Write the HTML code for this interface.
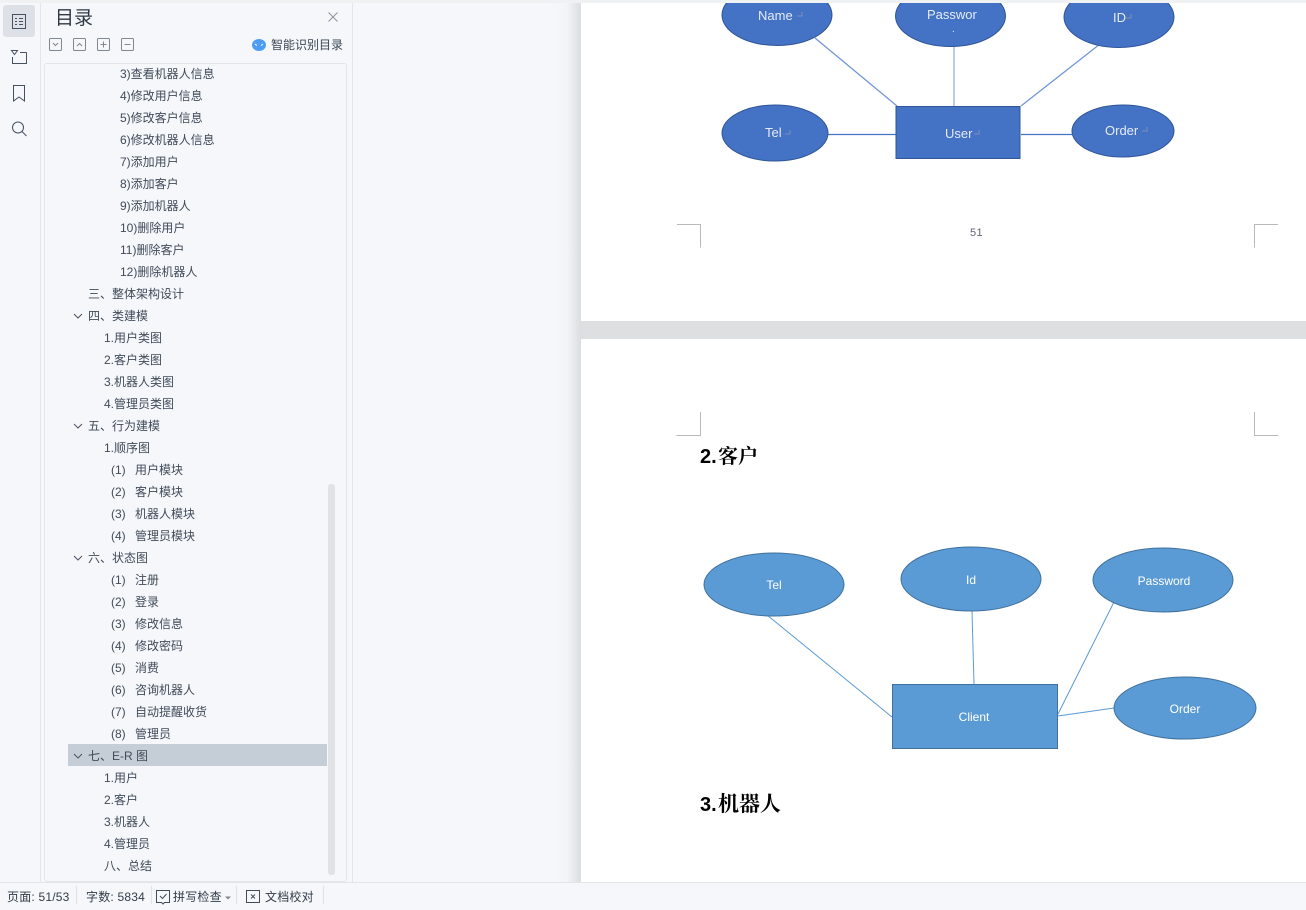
<!DOCTYPE html>
<html><head><meta charset="utf-8">
<style>
html,body{margin:0;padding:0;width:1306px;height:910px;overflow:hidden;background:#f5f7fa;}
body{position:relative;font-family:"Liberation Sans","Noto Sans CJK SC",sans-serif;color:#3c4654;}
.a{position:absolute;}
.r{position:absolute;font-size:12px;line-height:22px;height:22px;white-space:nowrap;color:#414b59;margin-top:1px;}
.s{position:absolute;font-size:12px;line-height:16px;top:889px;white-space:nowrap;color:#333c49;letter-spacing:.2px;}
svg{position:absolute;left:0;top:0;}
svg text{font-family:"Liberation Sans","Noto Sans CJK SC",sans-serif;}
</style></head><body>
<div class="a" style="left:553px;top:0;width:28px;height:882px;background:linear-gradient(90deg,#f5f7fa 0%,#f3f4f6 50%,#dcdde0 100%)"></div>
<div class="a" style="left:581px;top:0;width:725px;height:321px;background:#fff"></div>
<div class="a" style="left:581px;top:321px;width:725px;height:18px;background:#dedfe1"></div>
<div class="a" style="left:581px;top:339px;width:725px;height:543px;background:#fff"></div>
<div class="a" style="left:40px;top:0;width:1px;height:882px;background:#e3e5e9"></div>
<div class="a" style="left:352px;top:0;width:1px;height:882px;background:#e3e5e9"></div>
<div class="a" style="left:3px;top:5px;width:32px;height:32px;background:#dde0e6;border-radius:3px"></div>
<div class="a" style="left:44px;top:63px;width:301px;height:817px;border:1px solid #e2e4e8;border-radius:3px"></div>
<div class="a" style="left:328px;top:484px;width:7px;height:391px;background:#e0e2e5;border-radius:3px"></div>
<div class="a" style="left:68px;top:744px;width:259px;height:22px;background:#c5ced6"></div>
<div class="a" style="left:0;top:882px;width:1306px;height:1px;background:#e3e5e9"></div>
<div class="a" style="left:0;top:0;width:1306px;height:3px;background:#f0f1f3"></div>

<div class="a" style="left:55px;top:6px;font-size:19px;line-height:25px;color:#2f3946">目录</div>
<div class="a" style="left:271px;top:37px;font-size:12px;line-height:17px;color:#3c4654">智能识别目录</div>

<div class="r" style="left:120px;top:62px">3)查看机器人信息</div>
<div class="r" style="left:120px;top:84px">4)修改用户信息</div>
<div class="r" style="left:120px;top:106px">5)修改客户信息</div>
<div class="r" style="left:120px;top:128px">6)修改机器人信息</div>
<div class="r" style="left:120px;top:150px">7)添加用户</div>
<div class="r" style="left:120px;top:172px">8)添加客户</div>
<div class="r" style="left:120px;top:194px">9)添加机器人</div>
<div class="r" style="left:120px;top:216px">10)删除用户</div>
<div class="r" style="left:120px;top:238px">11)删除客户</div>
<div class="r" style="left:120px;top:260px">12)删除机器人</div>
<div class="r" style="left:88px;top:282px">三、整体架构设计</div>
<div class="r" style="left:88px;top:304px">四、类建模</div>
<div class="r" style="left:104px;top:326px">1.用户类图</div>
<div class="r" style="left:104px;top:348px">2.客户类图</div>
<div class="r" style="left:104px;top:370px">3.机器人类图</div>
<div class="r" style="left:104px;top:392px">4.管理员类图</div>
<div class="r" style="left:88px;top:414px">五、行为建模</div>
<div class="r" style="left:104px;top:436px">1.顺序图</div>
<div class="r" style="left:111px;top:458px">(1)<span class="a" style="left:24px">用户模块</span></div>
<div class="r" style="left:111px;top:480px">(2)<span class="a" style="left:24px">客户模块</span></div>
<div class="r" style="left:111px;top:502px">(3)<span class="a" style="left:24px">机器人模块</span></div>
<div class="r" style="left:111px;top:524px">(4)<span class="a" style="left:24px">管理员模块</span></div>
<div class="r" style="left:88px;top:546px">六、状态图</div>
<div class="r" style="left:111px;top:568px">(1)<span class="a" style="left:24px">注册</span></div>
<div class="r" style="left:111px;top:590px">(2)<span class="a" style="left:24px">登录</span></div>
<div class="r" style="left:111px;top:612px">(3)<span class="a" style="left:24px">修改信息</span></div>
<div class="r" style="left:111px;top:634px">(4)<span class="a" style="left:24px">修改密码</span></div>
<div class="r" style="left:111px;top:656px">(5)<span class="a" style="left:24px">消费</span></div>
<div class="r" style="left:111px;top:678px">(6)<span class="a" style="left:24px">咨询机器人</span></div>
<div class="r" style="left:111px;top:700px">(7)<span class="a" style="left:24px">自动提醒收货</span></div>
<div class="r" style="left:111px;top:722px">(8)<span class="a" style="left:24px">管理员</span></div>
<div class="r" style="left:88px;top:744px">七、E-R 图</div>
<div class="r" style="left:104px;top:766px">1.用户</div>
<div class="r" style="left:104px;top:788px">2.客户</div>
<div class="r" style="left:104px;top:810px">3.机器人</div>
<div class="r" style="left:104px;top:832px">4.管理员</div>
<div class="r" style="left:104px;top:854px">八、总结</div>

<div class="s" style="left:7px">页面: 51/53</div>
<div class="s" style="left:86px">字数: 5834</div>
<div class="s" style="left:173px">拼写检查</div>
<div class="s" style="left:265px">文档校对</div>

<svg width="1306" height="910" viewBox="0 0 1306 910">
<!-- rail icons -->
<g fill="none" stroke="#465161" stroke-width="1">
<rect x="12.500" y="14.500" width="13" height="14"/>
<path d="M15 18.500h2M15 21.500h2M15 24.500h2M19 18.500h4M19 21.500h4M19 24.500h4"/>
<path d="M11.500 50.500h6l-3 4zM20 52.500h6.500M12.500 57v6.500h14v-11"/>
<path d="M13.500 85.500h11v15.500l-5.500-4-5.500 4z"/>
<circle cx="18" cy="127.500" r="5.500"/><path d="M22 131.500l4.500 4.500"/>
<path d="M328.500 12.500l9 9M337.500 12.500l-9 9" stroke="#8a929c"/>
</g>
<g fill="none" stroke="#7f8791" stroke-width="1">
<rect x="49.500" y="38.500" width="12" height="12" rx="1"/><path d="M53 43l2.500 2.500 2.500-2.500"/>
<rect x="73.500" y="38.500" width="12" height="12" rx="1"/><path d="M77 46l2.500-2.500 2.500 2.500"/>
<rect x="97.500" y="38.500" width="12" height="12" rx="1"/><path d="M100.500 44.500h6M103.500 41.500v6"/>
<rect x="121.500" y="38.500" width="12" height="12" rx="1"/><path d="M124.500 44.500h6"/>
</g>
<ellipse cx="259" cy="45" rx="7" ry="6" fill="#4f9cf5"/>
<path d="M255 44l2 1.500M263 44l-2 1.500" stroke="#fff" fill="none"/>
<!-- tree chevrons -->
<g fill="none" stroke="#4a5462" stroke-width="1">
<path d="M74 314l4 4 4-4M74 424l4 4 4-4M74 556l4 4 4-4M74 754l4 4 4-4"/>
</g>
<!-- status bar icons -->
<g fill="none" stroke="#414b59" stroke-width="1">
<path d="M156.500 890.500h13v12h-5l-1.500 1.500-1.500-1.500h-5z"/><path d="M160 896l2.500 2.500 4-4.500"/>
<rect x="246.500" y="890.500" width="13" height="12"/><path d="M251 894.500l4 4M255 894.500l-4 4"/>
</g>
<path d="M225 896.500h6l-3 3z" fill="#7f8791"/>
<g stroke="#e0e2e6"><path d="M76.500 886v18M151.500 886v18M236.500 886v18M323.500 886v18"/></g>

<!-- page marks -->
<g fill="none" stroke="#b9b9b9" stroke-width="1">
<path d="M677 224.500h23.500v23"/>
<path d="M1278 224.500h-23.500v23"/>
<path d="M700.500 412v23.500h-24"/>
<path d="M1254.500 412v23.500h24"/>
</g>
<text x="970" y="236" font-size="11" fill="#5d6570" letter-spacing=".4">51</text>
<g font-weight="bold" fill="#000">
<text x="700" y="463" font-size="20">2.</text>
<text x="718" y="463" font-size="20" style="font-family:'Noto Serif CJK SC',serif">客户</text>
<text x="700" y="811" font-size="20">3.</text>
<text x="718" y="811" font-size="21" style="font-family:'Noto Serif CJK SC',serif">机器人</text>
</g>

<!-- diagram 1 -->
<g clip-path="url(#c1)">
<clipPath id="c1"><rect x="581" y="3" width="725" height="318"/></clipPath>
<g stroke="#6e93d6" stroke-width="1.200">
<line x1="815" y1="38" x2="897" y2="106"/>
<line x1="954" y1="46" x2="954" y2="106" stroke="#8faadc"/>
<line x1="1100" y1="44" x2="1021" y2="106"/>
</g>
<g stroke="#4472c4" stroke-width="1.200">
<line x1="828" y1="134.500" x2="896" y2="134.500"/>
<line x1="1021" y1="134.500" x2="1072" y2="134.500"/>
</g>
<g fill="#4472c4" stroke="#2f5597" stroke-width="1">
<ellipse cx="777" cy="15" rx="55" ry="30.500"/>
<ellipse cx="950.500" cy="16" rx="55" ry="30.500"/>
<ellipse cx="1119" cy="17" rx="55" ry="30.500"/>
<ellipse cx="775" cy="133" rx="53" ry="28"/>
<ellipse cx="1123" cy="131" rx="51" ry="26"/>
<rect x="896" y="106.500" width="124" height="52"/>
</g>
<g fill="#e6ecf7" font-size="13">
<text x="758" y="20">Name</text>
<text x="927" y="19">Passwor</text>
<text x="952" y="32" font-size="10">.</text>
<text x="1113" y="22">ID</text>
<text x="765" y="137">Tel</text>
<text x="945" y="138">User</text>
<text x="1105" y="135">Order</text>
</g>
<g fill="none" stroke="#8d99b8" stroke-width="0.800">
<path d="M802 12v4h-5M1131 14v4h-5M790 130v4h-5M979 130v4h-5M1147 127v4h-5"/>
</g>
</g>

<!-- diagram 2 -->
<g stroke="#5b9bd5" stroke-width="1">
<line x1="767" y1="615" x2="892" y2="717"/>
<line x1="972" y1="611" x2="974" y2="684"/>
<line x1="1114" y1="602" x2="1058" y2="714"/>
<line x1="1058" y1="716" x2="1114" y2="708"/>
</g>
<g fill="#5b9bd5" stroke="#41719c" stroke-width="1">
<ellipse cx="774" cy="584.500" rx="70" ry="31.500"/>
<ellipse cx="971" cy="579" rx="70" ry="32"/>
<ellipse cx="1163" cy="580" rx="70" ry="32"/>
<ellipse cx="1185" cy="708" rx="71" ry="31"/>
<rect x="892.500" y="684.500" width="165" height="64"/>
</g>
<g fill="#fff" font-size="12" text-anchor="middle">
<text x="774" y="589">Tel</text>
<text x="971" y="584">Id</text>
<text x="1164" y="585">Password</text>
<text x="1185" y="713">Order</text>
<text x="974" y="721">Client</text>
</g>
</svg>
</body></html>
